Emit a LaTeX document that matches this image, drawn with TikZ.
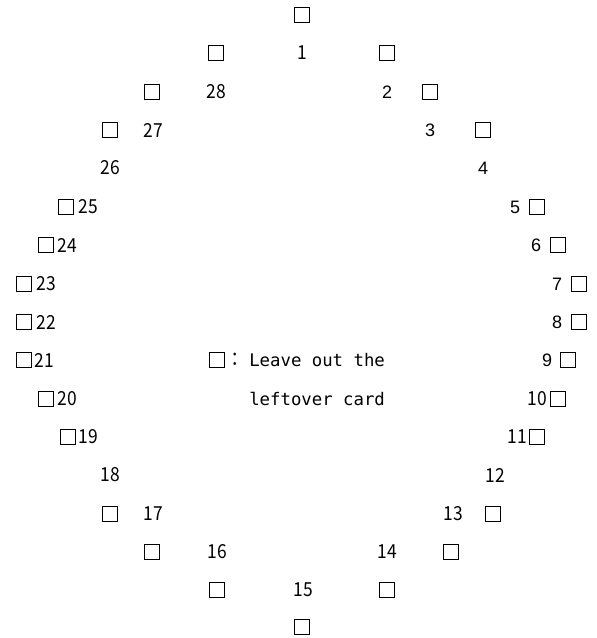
\documentclass[tikz,border=0pt]{standalone}
\usepackage{fontspec}
\usepackage{tikz}
\newfontfamily\gothic[FakeStretch=0.9]{Noto Sans CJK JP}
\newfontfamily\arialf{Liberation Sans}
\newfontfamily\monof{DejaVu Sans Mono}

\begin{document}
\begin{tikzpicture}[
    x=0.75pt, y=-0.75pt,
    card/.style={draw, line width=0.95pt, minimum size=10.8pt, inner sep=0pt},
    gnum/.style={font=\gothic\fontsize{14.5}{17}\selectfont, inner sep=0pt},
    anum/.style={font=\arialf\fontsize{13.5}{16}\selectfont, inner sep=0pt},
    note/.style={font=\monof\fontsize{13}{16}\selectfont, inner sep=0pt, anchor=west}
  ]
    \useasboundingbox (0,0) rectangle (596,638);

    % top and bottom of the ring
    \node[card] (top) at (302,15) {};
    \node[card] (bottom) at (302,627) {};

    % upper half
    \node[card] (l1) at (216,53) {};
    \node[gnum] (n1) at (302,53) {1};
    \node[card] (r1) at (387,53) {};

    \node[card] (l2) at (152,92) {};
    \node[gnum] (n28) at (216,92) {28};
    \node[anum] (n2) at (387,92) {2};
    \node[card] (r2) at (430,92) {};

    \node[card] (l3) at (110,130) {};
    \node[gnum] (n27) at (153,130) {27};
    \node[anum] (n3) at (430,130) {3};
    \node[card] (r3) at (483,130) {};

    \node[gnum] (n26) at (110,168) {26};
    \node[anum] (n4) at (483,168) {4};

    \node[card] (l5) at (66,207) {};
    \node[gnum] (n25) at (88,207) {25};
    \node[anum] (n5) at (515,207) {5};
    \node[card] (r5) at (537,207) {};

    \node[card] (l6) at (46,245) {};
    \node[gnum] (n24) at (67,245) {24};
    \node[anum] (n6) at (536,245) {6};
    \node[card] (r6) at (558,245) {};

    \node[card] (l7) at (24,284) {};
    \node[gnum] (n23) at (46,284) {23};
    \node[anum] (n7) at (557,284) {7};
    \node[card] (r7) at (579,284) {};

    \node[card] (l8) at (24,322) {};
    \node[gnum] (n22) at (46,322) {22};
    \node[anum] (n8) at (557,322) {8};
    \node[card] (r8) at (579,322) {};

    % lower half
    \node[card] (l9) at (24,360) {};
    \node[gnum] (n21) at (44,360) {21};
    \node[anum] (n9) at (547,360) {9};
    \node[card] (r9) at (568,360) {};

    \node[card] (l10) at (46,399) {};
    \node[gnum] (n20) at (67,399) {20};
    \node[gnum] (n10) at (537,399) {10};
    \node[card] (r10) at (558,399) {};

    \node[card] (l11) at (68,437) {};
    \node[gnum] (n19) at (88,437) {19};
    \node[gnum] (n11) at (517,437) {11};
    \node[card] (r11) at (537,437) {};

    \node[gnum] (n18) at (110,475) {18};
    \node[gnum] (n12) at (495,475) {12};

    \node[card] (l13) at (110,514) {};
    \node[gnum] (n17) at (153,514) {17};
    \node[gnum] (n13) at (453,514) {13};
    \node[card] (r13) at (493,514) {};

    \node[card] (l14) at (152,552) {};
    \node[gnum] (n16) at (217,552) {16};
    \node[gnum] (n14) at (387,552) {14};
    \node[card] (r14) at (451,552) {};

    \node[card] (l15) at (217,590) {};
    \node[gnum] (n15) at (303,590) {15};
    \node[card] (r15) at (387,590) {};

    % legend
    \node[card] (key) at (217,360) {};
    \node[gnum] (colon) at (235,360) {：};
    \node[note] (line1) at (249,360) {Leave out the};
    \node[note] (line2) at (249,399) {leftover card};
  \end{tikzpicture}
\end{document}
